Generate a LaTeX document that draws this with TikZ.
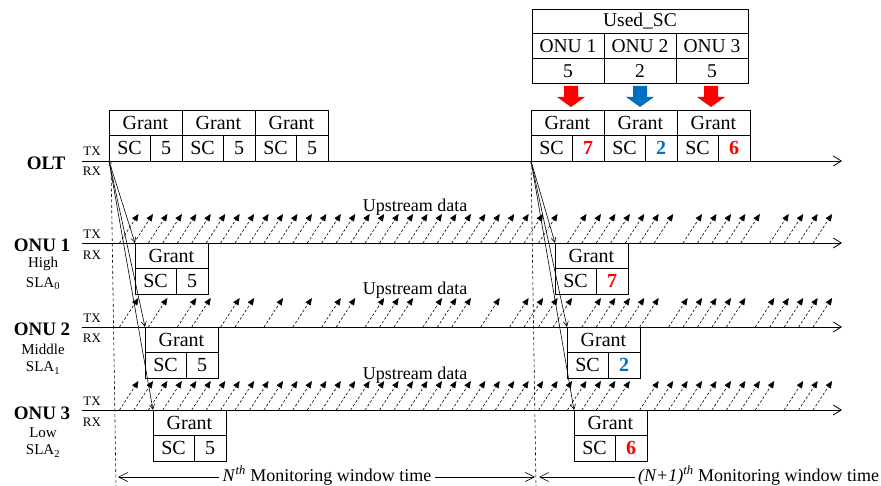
\documentclass[tikz,border=0pt]{standalone}
\usepackage{fontspec}
\setmainfont{Liberation Serif}
\usetikzlibrary{arrows.meta}
\definecolor{myred}{RGB}{255,0,0}
\definecolor{myblue}{RGB}{0,112,192}
\newcommand{\fs}[1]{\fontsize{#1}{#1}\selectfont}
\newcommand{\numred}[1]{\textcolor{myred}{\textbf{#1}}}
\newcommand{\numblue}[1]{\textcolor{myblue}{\textbf{#1}}}
% grant box: name, north-west coordinate, number
\newcommand{\GrantBox}[3]{%
  \node[gcell,minimum width=73,anchor=north west] (#1g) at #2 {Grant};
  \node[gcell,minimum width=41,anchor=north west] (#1s) at (#1g.south west) {SC};
  \node[gcell,minimum width=32,anchor=north west] (#1n) at (#1s.north east) {#3};
}
% block arrow: centre x, colour
\newcommand{\BlkArrow}[2]{%
  \fill[#2] (#1-7,86) -- (#1+7,86) -- (#1+7,97) -- (#1+14,97) -- (#1,107)
            -- (#1-14,97) -- (#1-7,97) -- cycle;
}
% upstream dashed arrows: line y, list of grid indices
\newcommand{\UpRow}[2]{%
  \foreach \k in {#2}{%
    \pgfmathsetmacro{\gx}{136.5+14.45*\k}
    \draw[uparr] (\gx-17,#1) -- (\gx+2,#1-29);
  }
}
\begin{document}
\begin{tikzpicture}[x=1pt,y=-1pt,
  gcell/.style={draw,line width=0.8pt,inner sep=0pt,outer sep=0pt,minimum height=25.5,font=\fs{20}},
  tcell/.style={draw,line width=0.8pt,inner sep=0pt,outer sep=0pt,minimum height=24.7,font=\fs{19.5}},
  tl/.style={line width=0.8pt,-{Straight Barb[length=8pt,width=10pt]}},
  dn/.style={line width=0.6pt,-{Straight Barb[length=5pt,width=5pt]}},
  uparr/.style={line width=0.6pt,dash pattern=on 2.5pt off 2pt,-{Triangle[length=7pt,width=6pt]}},
  vdash/.style={line width=0.6pt,dash pattern=on 3pt off 2.5pt},
  dim/.style={line width=0.6pt,-{Straight Barb[length=9pt,width=9pt]}},
  big/.style={font=\fs{19}\bfseries,inner sep=0pt},
  small/.style={font=\fs{15},inner sep=0pt},
  trx/.style={font=\fs{13},inner sep=0pt},
  updata/.style={font=\fs{18},inner sep=0pt},
  dimlbl/.style={font=\fs{18},inner sep=3pt}]
\useasboundingbox (0,0) rectangle (881,486);

% ---- timeline coordinates
\coordinate (oltS) at (82,161);  \coordinate (oltE) at (842,161);
\coordinate (o1S) at (82,243);   \coordinate (o1E) at (842,243);
\coordinate (o2S) at (82,327);   \coordinate (o2E) at (842,327);
\coordinate (o3S) at (82,410);   \coordinate (o3E) at (842,410);

% ---- upstream data arrows
\UpRow{243}{0,1,2,3,4,5,6,7,8,9,10,11,12,13,14,15,16,17,18,19,20,21,22,23,24,25,26,27,28,29,31,32,33,34,35,36,37,39,40,41,42,43,45,46,47,48}
\UpRow{327}{0,2,4,5,7,8,10,12,14,15,17,18,19,21,22,23,25,27,28,29,30,32,33,34,35,36,38,39,40,41,42,44,45,46,47,48}
\UpRow{410}{0,1,2,3,4,5,6,7,8,9,10,11,12,13,14,15,16,17,18,19,20,21,22,23,24,25,26,27,28,29,30,31,32,33,34,36,37,38,39,40,41,42,43,44,46,47,48}

\node[updata] (ud1) at (415,207) {Upstream data};
\node[updata] (ud2) at (415,290) {Upstream data};
\node[updata] (ud3) at (415,375) {Upstream data};

% ---- timelines
\draw[tl] (oltS) -- (oltE);
\draw[tl] (o1S) -- (o1E);
\draw[tl] (o2S) -- (o2E);
\draw[tl] (o3S) -- (o3E);

% ---- window boundaries
\coordinate (wA) at (111,161); \coordinate (wAb) at (116,486);
\coordinate (wB) at (531,161); \coordinate (wBb) at (536,486);
\draw[vdash] (wA) -- (wAb);
\draw[vdash] (wB) -- (wBb);

% ---- left labels
\node[big] (olt) at (46,163) {OLT};
\node[big] (onu1) at (42,245) {ONU 1};
\node[small] (onu1a) at (43,264) {High};
\node[small] (onu1b) at (43,284) {SLA\textsubscript{0}};
\node[big] (onu2) at (42,329) {ONU 2};
\node[small] (onu2a) at (43,349) {Middle};
\node[small] (onu2b) at (43,368) {SLA\textsubscript{1}};
\node[big] (onu3) at (42,413) {ONU 3};
\node[small] (onu3a) at (43,433) {Low};
\node[small] (onu3b) at (43,451) {SLA\textsubscript{2}};

\node[trx] (tx0) at (92,151) {TX}; \node[trx] (rx0) at (92,171) {RX};
\node[trx] (tx1) at (92,234) {TX}; \node[trx] (rx1) at (92,255) {RX};
\node[trx] (tx2) at (92,318) {TX}; \node[trx] (rx2) at (92,338) {RX};
\node[trx] (tx3) at (92,401) {TX}; \node[trx] (rx3) at (92,422) {RX};

% ---- OLT grants, window N
\GrantBox{a1}{(109,110)}{5}
\GrantBox{a2}{(a1g.north east)}{5}
\GrantBox{a3}{(a2g.north east)}{5}

% ---- OLT grants, window N+1
\GrantBox{b1}{(531,110)}{\numred{7}}
\GrantBox{b2}{(b1g.north east)}{\numblue{2}}
\GrantBox{b3}{(b2g.north east)}{\numred{6}}

% ---- ONU grants, window N
\GrantBox{c1}{(135,243)}{5}
\GrantBox{c2}{(145,327)}{5}
\GrantBox{c3}{(153,410)}{5}

% ---- ONU grants, window N+1
\GrantBox{d1}{(555,243)}{\numred{7}}
\GrantBox{d2}{(567,327)}{\numblue{2}}
\GrantBox{d3}{(574,410)}{\numred{6}}

% ---- downstream grant transmissions
\draw[dn] (a1s.south west) -- (c1g.north west);
\draw[dn] (a1s.south west) -- (c2g.north west);
\draw[dn] (a1s.south west) -- (c3g.north west);
\draw[dn] (b1s.south west) -- (d1g.north west);
\draw[dn] (b1s.south west) -- (d2g.north west);
\draw[dn] (b1s.south west) -- (d3g.north west);

% ---- Used_SC table
\node[tcell,minimum width=216,anchor=north west] (used) at (532,9) {Used\_SC};
\node[tcell,minimum width=72,anchor=north west] (t1) at (used.south west) {ONU 1};
\node[tcell,minimum width=72,anchor=north west] (t2) at (t1.north east) {ONU 2};
\node[tcell,minimum width=72,anchor=north west] (t3) at (t2.north east) {ONU 3};
\node[tcell,minimum width=72,anchor=north west] (v1) at (t1.south west) {5};
\node[tcell,minimum width=72,anchor=north west] (v2) at (v1.north east) {2};
\node[tcell,minimum width=72,anchor=north west] (v3) at (v2.north east) {5};

\BlkArrow{571}{myred}
\BlkArrow{640}{myblue}
\BlkArrow{711}{myred}

% ---- monitoring windows
\coordinate (m1l) at (118,477);
\coordinate (m1r) at (535,477);
\coordinate (m2l) at (539,477);
\node[dimlbl,anchor=base] (w1) at (327,481) {\textit{N}\textsuperscript{\textit{th}} Monitoring window time};
\node[dimlbl,anchor=base west] (w2) at (635,481) {\textit{(N+1)}\textsuperscript{\textit{th}} Monitoring window time};
\draw[dim] (w1.west |- m1l) -- (m1l);
\draw[dim] (w1.east |- m1r) -- (m1r);
\draw[dim] (w2.west |- m2l) -- (m2l);
\end{tikzpicture}
\end{document}
